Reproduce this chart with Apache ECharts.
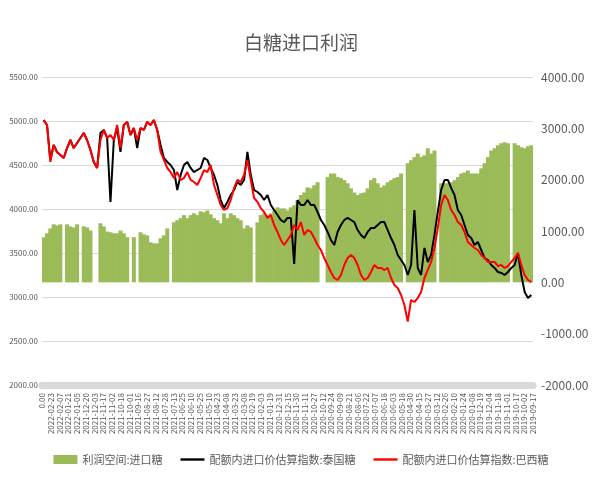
<!DOCTYPE html>
<html>
<head>
<meta charset="utf-8">
<script src="https://cdn.jsdelivr.net/npm/echarts@6/dist/echarts.min.js"></script>
<style>
  html, body { margin: 0; padding: 0; background: #fff; }
  #chart { width: 602px; height: 478px; }
</style>
</head>
<body>
<div id="chart"></div>
<script>
// 横轴刻度（原图顺序：由近到远）
let tickLabels = ['0.00', '2022-02-23', '2022-02-07', '2022-01-21', '2022-01-05', '2021-12-20', '2021-12-03',
    '2021-11-17', '2021-11-02', '2021-10-18', '2021-10-01', '2021-09-16', '2021-08-27', '2021-08-12',
    '2021-07-28', '2021-07-13', '2021-06-25', '2021-06-10', '2021-05-25', '2021-05-10', '2021-04-23',
    '2021-04-08', '2021-03-23', '2021-03-08', '2021-02-19', '2021-02-03', '2021-01-19', '2020-12-31',
    '2020-12-15', '2020-11-30', '2020-11-11', '2020-10-27', '2020-10-12', '2020-09-24', '2020-09-09',
    '2020-08-21', '2020-08-06', '2020-07-22', '2020-07-07', '2020-06-18', '2020-06-03', '2020-05-18',
    '2020-04-30', '2020-04-15', '2020-03-27', '2020-03-12', '2020-02-26', '2020-02-10', '2020-01-24',
    '2020-01-08', '2019-12-19', '2019-12-04', '2019-11-18', '2019-11-01', '2019-10-17', '2019-10-02',
    '2019-09-17'];

// 利润空间:进口糖（右轴）
let profit = [
    877, 955, 1050, 1130, 1110, 1130, 0, 1130, 1090, 1070,
    1130, 0, 1090, 1070, 1010, 0, 0, 1150, 1090, 990,
    975, 955, 955, 1010, 955, 880, 0, 880, 0, 975,
    935, 915, 780, 760, 760, 860, 915, 1050, 0, 1170,
    1210, 1250, 1310, 1250, 1310, 1345, 1310, 1385, 1365, 1400,
    1325, 1250, 1210, 1150, 1345, 1250, 1345, 1310, 1250, 1210,
    1050, 1110, 1070, 0, 1170, 1310, 1345, 1310, 1345, 1400,
    1460, 1440, 1440, 1400,
    1460, 1500, 1600, 1700, 1750, 1850, 1830, 1890, 1950, 0,
    0, 2050, 2120, 2120, 2050, 2030, 1990, 1930, 1830, 1750,
    1700, 1735, 1750, 1830, 1990, 2030, 1930, 1850, 1890, 1950,
    1990, 2030, 2050, 2120, 0, 2320, 2380, 2440, 2510, 2440,
    2475, 2610, 2510, 2570, 0, 1930, 1930, 1930, 1950, 1990,
    2050, 2120, 2140, 2180, 2120, 2120, 2120, 2220, 2320, 2440,
    2570, 2610, 2670, 2710, 2730, 2710, 0, 2710, 2670, 2630,
    2610, 2650, 2670
];

// 配额内进口价估算指数:泰国糖（左轴）
let thai = [
    5010, 4955, 4557, 4727, 4648, 4614, 4580, 4693, 4784, 4693,
    4750, 4807, 4864, 4784, 4670, 4535, 4466, 4864, 4898, 4807,
    4080, 4784, 4920, 4648, 4955, 4989, 4841, 4920, 4693, 4920,
    4898, 4989, 4955, 5010, 4898, 4727, 4580, 4535, 4500, 4443,
    4216, 4386, 4500, 4535, 4466, 4420, 4443, 4466, 4580, 4557,
    4466, 4386, 4273, 4102, 4011, 4080, 4159, 4216, 4307, 4273,
    4330, 4648, 4386, 4216, 4193, 4159, 4102, 4159, 4045, 3989,
    3932, 3875, 3852, 3898,
    3898, 3375, 4102, 4045, 4045, 4102, 4045, 4045, 3966, 3875,
    3818, 3739, 3648, 3591, 3739, 3818, 3875, 3898, 3875, 3852,
    3761, 3705, 3670, 3739, 3784, 3784, 3818, 3852, 3852, 3761,
    3670, 3591, 3477, 3420, 3364, 3250, 3364, 3989, 3330, 3250,
    3557, 3398, 3477, 3705, 3966, 4216, 4330, 4330, 4239, 4159,
    3989, 3932, 3818, 3705, 3670, 3591, 3625, 3534, 3443, 3420,
    3364, 3330, 3284, 3273, 3250, 3284, 3330, 3364, 3500, 3250,
    3057, 2989, 3023
];

// 配额内进口价估算指数:巴西糖（左轴）
let brazil = [
    5010, 4955, 4535, 4727, 4648, 4614, 4580, 4693, 4784, 4693,
    4750, 4807, 4864, 4784, 4670, 4535, 4466, 4784, 4898, 4807,
    4841, 4784, 4955, 4693, 4955, 4989, 4841, 4920, 4784, 4920,
    4898, 4989, 4955, 5010, 4898, 4648, 4557, 4466, 4420, 4352,
    4420, 4330, 4352, 4420, 4330, 4307, 4273, 4352, 4443, 4420,
    4500, 4273, 4159, 4045, 3989, 4011, 4102, 4239, 4330, 4307,
    4386, 4557, 4330, 4125, 4080, 4011, 3966, 3898, 3932, 3818,
    3739, 3648, 3591, 3648,
    3705, 3818, 3761, 3852, 3705, 3761, 3739, 3670, 3591, 3534,
    3443, 3364, 3284, 3216, 3193, 3250, 3364, 3443, 3477, 3443,
    3364, 3250, 3193, 3216, 3284, 3364, 3330, 3330, 3307, 3330,
    3216, 3136, 3102, 3023, 2909, 2720, 2966, 2943, 2989, 3057,
    3216, 3307, 3398, 3557, 3784, 4045, 4159, 4102, 3989, 3932,
    3852, 3818, 3739, 3625, 3591, 3557, 3534, 3477, 3443, 3398,
    3398, 3398, 3352, 3364, 3330, 3352, 3398, 3443, 3500, 3364,
    3250, 3193, 3170
];

let idx = profit.map((v, i) => String(i));
let font = 'Noto Sans CJK SC';
let lineIcon = 'path://M0,0h30v3h-30z';

let option = {
    backgroundColor: '#fff',
    textStyle: { fontFamily: font },
    title: {
        text: '白糖进口利润',
        left: 'center',
        top: 28,
        textStyle: { fontSize: 19, fontWeight: 'normal', color: '#595959', fontFamily: font }
    },
    legend: {
        bottom: 8,
        left: 'center',
        itemGap: 18,
        itemWidth: 24,
        itemHeight: 9,
        textStyle: { color: '#595959', fontSize: 11, fontFamily: font },
        data: [
            { name: '利润空间:进口糖', icon: 'rect' },
            { name: '配额内进口价估算指数:泰国糖', icon: lineIcon, itemHeight: 3 },
            { name: '配额内进口价估算指数:巴西糖', icon: lineIcon, itemHeight: 3 }
        ]
    },
    grid: { left: 42, right: 69, top: 77, bottom: 93 },
    xAxis: [
        {
            type: 'category',
            data: tickLabels,
            boundaryGap: false,
            axisLine: { onZero: false, lineStyle: { color: '#d9d9d9', width: 7 } },
            axisTick: { show: false },
            axisLabel: { rotate: 90, interval: 0, fontSize: 8, color: '#595959', margin: 8 }
        },
        {
            type: 'category',
            data: idx,
            show: false,
            boundaryGap: true
        }
    ],
    yAxis: [
        {
            type: 'value',
            min: 2000, max: 5500, interval: 500,
            axisLine: { show: false },
            axisTick: { show: false },
            splitLine: { lineStyle: { color: '#d9d9d9' } },
            axisLabel: { fontSize: 8, color: '#595959', formatter: v => v.toFixed(2), margin: 4 }
        },
        {
            type: 'value',
            min: -2000, max: 4000, interval: 1000,
            axisLine: { show: false },
            axisTick: { show: false },
            splitLine: { show: false },
            axisLabel: { fontSize: 12, color: '#595959', formatter: v => v.toFixed(2), margin: 8 }
        }
    ],
    series: [
        {
            name: '利润空间:进口糖',
            type: 'bar',
            xAxisIndex: 1,
            yAxisIndex: 1,
            barWidth: 4,
            itemStyle: { color: '#9bbb59' },
            data: profit
        },
        {
            name: '配额内进口价估算指数:泰国糖',
            type: 'line',
            xAxisIndex: 1,
            yAxisIndex: 0,
            symbol: 'none',
            lineStyle: { color: '#000', width: 2 },
            itemStyle: { color: '#000' },
            data: thai
        },
        {
            name: '配额内进口价估算指数:巴西糖',
            type: 'line',
            xAxisIndex: 1,
            yAxisIndex: 0,
            symbol: 'none',
            lineStyle: { color: '#ff0000', width: 2 },
            itemStyle: { color: '#ff0000' },
            data: brazil
        }
    ]
};

var myChart = echarts.init(document.getElementById('chart'));
myChart.setOption(option);
</script>
</body>
</html>
